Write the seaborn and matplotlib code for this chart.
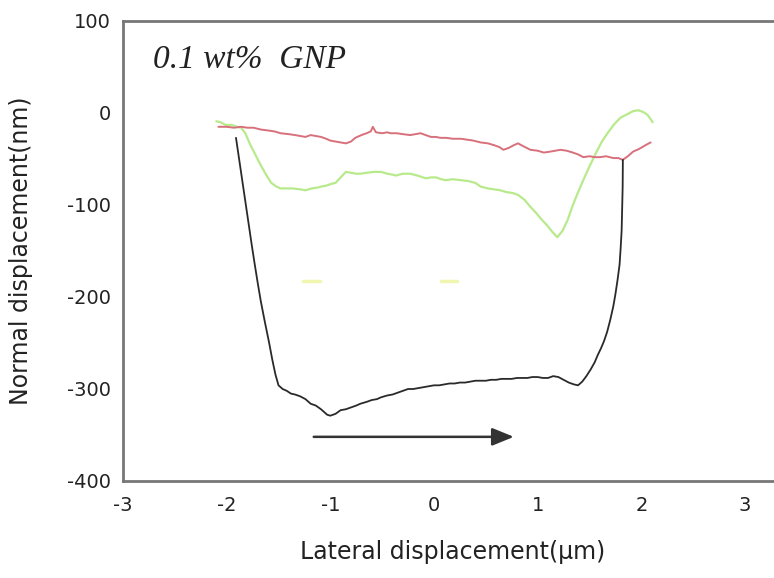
import matplotlib
matplotlib.use("Agg")
import matplotlib.pyplot as plt
import seaborn as sns
import pandas as pd

# ---- data ----
black_x = [-1.91, -1.88, -1.85, -1.82, -1.79, -1.76, -1.73, -1.70, -1.67, -1.63, -1.59, -1.56,
           -1.53, -1.50, -1.46, -1.42, -1.38, -1.34, -1.29, -1.24, -1.19, -1.14, -1.09, -1.05,
           -1.03, -1.00, -0.95, -0.90, -0.85, -0.80, -0.75, -0.71, -0.65, -0.60, -0.55, -0.51,
           -0.45, -0.40, -0.35, -0.30, -0.25, -0.20, -0.15, -0.10, -0.05, 0.00, 0.05, 0.10,
           0.15, 0.20, 0.25, 0.30, 0.35, 0.40, 0.45, 0.50, 0.55, 0.60, 0.65, 0.70, 0.75, 0.80,
           0.85, 0.90, 0.95, 1.00, 1.05, 1.10, 1.15, 1.20, 1.25, 1.30, 1.35, 1.39, 1.43, 1.47,
           1.51, 1.55, 1.58, 1.61, 1.64, 1.67, 1.70, 1.73, 1.75, 1.77, 1.79, 1.80, 1.81, 1.815,
           1.82, 1.822]
black_y = [-27, -50, -73, -96, -119, -142, -164, -185, -205, -228, -250, -268,
           -284, -296, -300, -302, -305, -306, -308, -311, -316, -318, -322, -326,
           -328, -329, -327, -323, -322, -320, -318, -316, -314, -312, -311, -309,
           -307, -306, -304, -302, -300, -300, -299, -298, -297, -296, -296, -295,
           -294, -294, -293, -293, -292, -291, -291, -291, -290, -290, -289, -289, -289, -288,
           -288, -288, -287, -287, -288, -288, -286, -287, -290, -293, -295, -296, -292, -286,
           -279, -271, -263, -256, -248, -238, -225, -210, -197, -182, -165, -148, -128, -105,
           -80, -51]

red_x = [-2.08, -2.00, -1.93, -1.86, -1.80, -1.74, -1.67, -1.60, -1.54, -1.48, -1.40, -1.34,
         -1.29, -1.24, -1.19, -1.14, -1.09, -1.04, -1.00, -0.95, -0.90, -0.85, -0.80, -0.76,
         -0.70, -0.65, -0.61, -0.59, -0.56, -0.50, -0.45, -0.42, -0.36, -0.30, -0.23, -0.18,
         -0.13, -0.08, -0.03, 0.02, 0.06, 0.12, 0.18, 0.26, 0.32, 0.38, 0.45, 0.52, 0.58,
         0.63, 0.67, 0.72, 0.77, 0.81, 0.86, 0.93, 1.00, 1.06, 1.12, 1.17, 1.22, 1.28, 1.34,
         1.39, 1.44, 1.50, 1.55, 1.60, 1.66, 1.73, 1.78, 1.82, 1.87, 1.92, 1.98, 2.04, 2.09]
red_y = [-15, -15, -16, -15, -16, -16, -18, -19, -20, -22, -23, -24,
         -25, -26, -24, -25, -26, -28, -30, -31, -32, -33, -31, -27,
         -24, -22, -20, -15, -21, -22, -21, -22, -22, -23, -24, -23,
         -22, -24, -26, -26, -27, -27, -28, -28, -29, -30, -32, -33, -35,
         -37, -40, -38, -35, -33, -36, -40, -41, -43, -42, -41, -40, -41, -43,
         -45, -48, -47, -48, -48, -47, -49, -49, -51, -47, -42, -39, -35, -32]

green_x = [-2.10, -2.06, -2.01, -1.95, -1.90, -1.86, -1.82, -1.77, -1.72, -1.67, -1.62, -1.57,
           -1.52, -1.48, -1.42, -1.36, -1.29, -1.24, -1.18, -1.12, -1.09, -1.04, -0.99, -0.95,
           -0.90, -0.85, -0.80, -0.75, -0.71, -0.65, -0.58, -0.51, -0.45, -0.40, -0.37, -0.30,
           -0.23, -0.16, -0.08, -0.03, 0.02, 0.07, 0.11, 0.18, 0.26, 0.33, 0.40, 0.45, 0.52,
           0.58, 0.64, 0.70, 0.76, 0.81, 0.87, 0.93, 0.98, 1.04, 1.09, 1.14, 1.19, 1.24, 1.29,
           1.34, 1.39, 1.44, 1.50, 1.56, 1.62, 1.68, 1.74, 1.80, 1.87, 1.92, 1.97, 2.02, 2.06,
           2.11]
green_y = [-9, -10, -13, -13, -15, -16, -22, -35, -46, -57, -67, -76,
           -80, -82, -82, -82, -83, -84, -82, -81, -80, -79, -77, -76,
           -70, -64, -65, -66, -66, -65, -64, -64, -66, -67, -68, -66,
           -66, -68, -71, -70, -70, -72, -73, -72, -73, -74, -76, -80, -82,
           -83, -84, -86, -87, -89, -94, -102, -108, -116, -122, -129, -135, -128, -116,
           -100, -86, -73, -58, -44, -31, -21, -12, -5, -1, 2, 3, 1, -2,
           -10]

faint_x1 = [-1.26, -1.10]
faint_x2 = [0.07, 0.22]
faint_y = [-183, -183]

arrow_start = (-1.16, -352)
arrow_end = (0.77, -352)

title_text = "0.1 wt%  GNP"
x_label = "Lateral displacement(\u03bcm)"
y_label = "Normal displacement(nm)"
x_ticks = [-3, -2, -1, 0, 1, 2, 3]
y_ticks = [100, 0, -100, -200, -300, -400]

# ---- plotting ----
sns.set_theme(style="white")
plt.rcParams['font.family'] = ['DejaVu Sans']

fig = plt.figure(figsize=(7.74, 5.78), dpi=100)
ax = fig.add_axes([123 / 774, 1 - 481 / 578, 1 - 123 / 774 + 0.01, (481 - 21) / 578])

df_red = pd.DataFrame({"x": red_x, "y": red_y})
df_green = pd.DataFrame({"x": green_x, "y": green_y})
df_black = pd.DataFrame({"x": black_x, "y": black_y})

common = dict(ax=ax, sort=False, estimator=None, errorbar=None)
sns.lineplot(data=df_green, x="x", y="y", color="#b8ea8c", lw=1.6, **common)
sns.lineplot(data=df_red, x="x", y="y", color="#d8707c", lw=1.4, **common)
sns.lineplot(data=df_black, x="x", y="y", color="#2a2a2a", lw=1.3, **common)
sns.lineplot(x=faint_x1, y=faint_y, color="#f0f6b0", lw=2.5, **common)
sns.lineplot(x=faint_x2, y=faint_y, color="#f0f6b0", lw=2.5, **common)

ax.annotate("", xy=arrow_end, xytext=arrow_start,
            arrowprops=dict(arrowstyle="-|>,head_length=1.1,head_width=0.45",
                            color="#333333", lw=1.8, shrinkA=0, shrinkB=0))

ax.text(0.045, 0.915, title_text, transform=ax.transAxes, fontsize=24,
        family="Liberation Serif", style="italic", color="#222222", va="center", ha="left")

ax.set_xlim(-3.0, 3.28 + 0.01 * 774 / 103.8)
ax.set_ylim(-400, 100)
ax.set_xticks(x_ticks)
ax.set_yticks(y_ticks)
ax.set_xticklabels([str(t) for t in x_ticks])
ax.set_yticklabels([str(t) for t in y_ticks])
ax.tick_params(axis="both", labelsize=14, colors="#222222", length=6, width=1.2,
               color="#777777")
ax.tick_params(axis="x", direction="inout", pad=8)
ax.tick_params(axis="y", direction="out", pad=3)
ax.set_xlabel(x_label, fontsize=17, color="#222222", labelpad=18)
ax.set_ylabel(y_label, fontsize=17, color="#222222", labelpad=24)

for side in ["left", "bottom", "top"]:
    ax.spines[side].set_color("#777777")
    ax.spines[side].set_linewidth(2)
ax.spines["right"].set_visible(False)

fig.savefig("out.png", dpi=100)
